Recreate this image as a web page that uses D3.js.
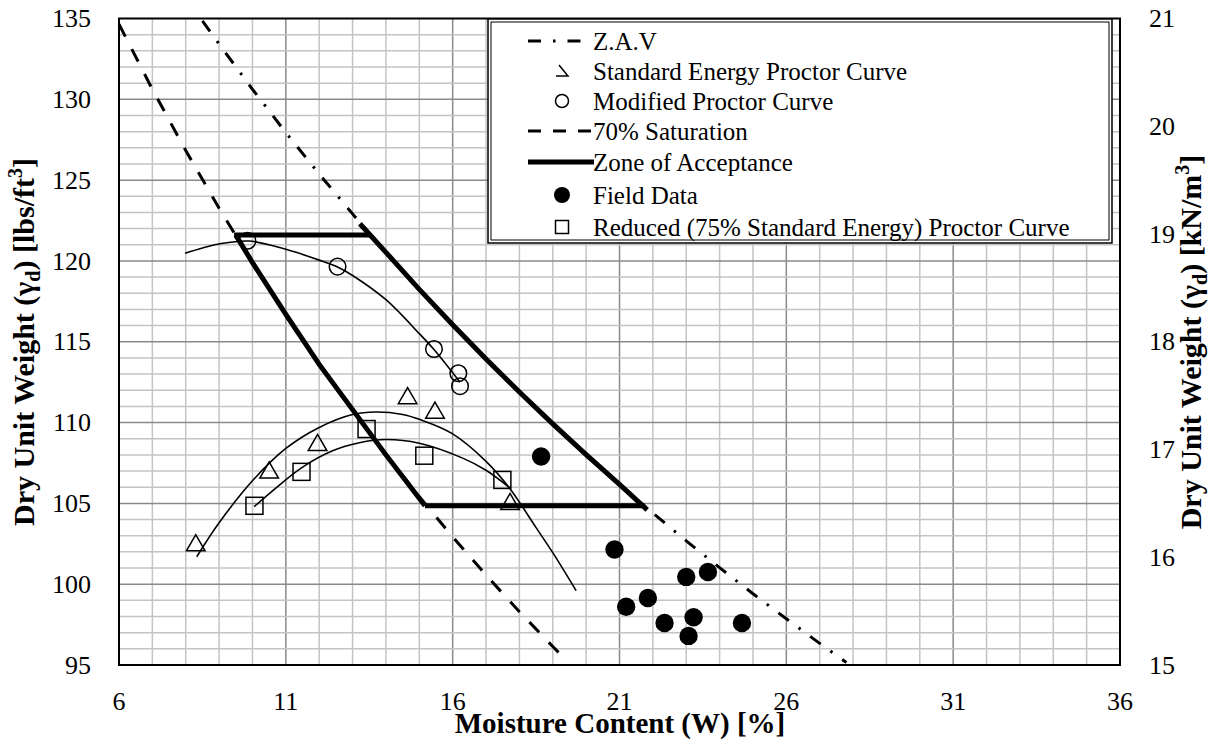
<!DOCTYPE html>
<html lang="en">
<head>
  <meta charset="UTF-8">
  <title>Compaction curves</title>
  <script src="https://d3js.org/d3.v7.min.js"></script>
  <style>
    body { margin: 0; background: #fff; }
  </style>
</head>
<body>
  <svg width="1210" height="740"></svg>
  <script>
    // ---- data ----
    const xTicks = [6, 11, 16, 21, 26, 31, 36];
    const yTicks = [95, 100, 105, 110, 115, 120, 125, 130, 135];
    const yTicksRight = [15, 16, 17, 18, 19, 20, 21];

    const standardPts = [[8.3, 102.4], [10.5, 106.9], [11.95, 108.6], [14.65, 111.5], [15.47, 110.6], [17.72, 104.95]];
    const modifiedPts = [[9.85, 121.25], [12.55, 119.65], [15.44, 114.55], [16.17, 113.05], [16.22, 112.25]];
    const reducedPts = [[10.06, 104.85], [11.47, 106.95], [13.42, 109.6], [15.15, 107.95], [17.49, 106.45]];
    const fieldPts = [[18.65, 107.9], [20.85, 102.15], [23.0, 100.45], [23.65, 100.75], [21.85, 99.15],
                      [21.2, 98.6], [22.35, 97.6], [23.22, 97.95], [23.07, 96.8], [24.67, 97.6]];

    const standardCurve = [[8.33, 101.7], [9, 103.8], [10, 106.4], [11, 108.4], [12, 109.7], [13, 110.5], [13.7, 110.65],
                           [14.5, 110.5], [15, 110.2], [16, 109.3], [17, 107.6], [17.7, 105.95], [18.5, 103.5], [19, 101.95], [19.7, 99.6]];
    const modifiedCurve = [[7.98, 120.47], [8.5, 120.8], [9, 121.05], [9.9, 121.23], [11, 120.72], [12, 120.05],
                           [12.55, 119.62], [13, 119.1], [14, 117.6], [15, 115.5], [15.44, 114.52], [16.22, 112.5]];
    const reducedCurve = [[10.05, 104.8], [10.7, 105.95], [11.47, 107.2], [12.4, 108.25], [13.2, 108.75], [14, 108.95],
                          [15, 108.72], [16.3, 107.8], [17, 107.05], [17.72, 105.95]];

    const zavLine = [[8.5, 134.86], [9, 133.42], [10, 130.62], [11, 127.94], [12, 125.38], [13, 122.91], [14, 120.53],
                     [15, 118.24], [16, 116.05], [17, 113.93], [18, 111.89], [19, 109.92], [20, 108.02], [21, 106.18],
                     [22, 104.4], [23, 102.68], [24, 101.02], [25, 99.41], [26, 97.86], [27, 96.34], [27.8, 95.15]];
    const sat70Line = [[6, 134.65], [7, 130.62], [8, 126.83], [9, 123.26], [10, 119.88], [11, 116.67], [12, 113.64],
                       [13, 110.76], [14, 108.02], [15, 105.41], [16, 102.93], [17, 100.56], [18, 98.3], [19, 96.14], [19.45, 95.2]];

    const zoneTop = [[9.45, 121.6], [13.55, 121.6]];
    const zoneRight = [[13.22, 122.3], [14, 120.53], [15, 118.24], [16, 116.05], [17, 113.93], [18, 111.89],
                       [19, 109.92], [20, 108.02], [21, 106.18], [21.83, 104.6]];
    const zoneBottom = [[15.17, 104.85], [21.76, 104.85]];
    const zoneLeft = [[9.5, 121.6], [10, 119.9], [11, 116.7], [12, 113.6], [13, 110.8], [14, 108.0], [15.17, 104.85]];

    const legendLabels = ["Z.A.V", "Standard Energy Proctor Curve", "Modified Proctor Curve", "70% Saturation",
                          "Zone of Acceptance", "Field Data", "Reduced (75% Standard Energy) Proctor Curve"];

    // ---- layout ----
    const svg = d3.select("svg");
    const FONT = '"Liberation Serif"';
    const pLeft = 119, pRight = 1120, pTop = 18.5, pBottom = 665;

    const x = d3.scaleLinear().domain([6, 36]).range([pLeft, pRight]);
    const y = d3.scaleLinear().domain([95, 135]).range([pBottom, pTop]);
    const y2 = d3.scaleLinear().domain([15, 21]).range([pBottom, pTop]);

    svg.append("rect").attr("width", 1210).attr("height", 740).attr("fill", "#fff");

    // grid
    const grid = svg.append("g");
    d3.range(7, 36).forEach(v => {
      grid.append("line")
        .attr("x1", x(v)).attr("x2", x(v)).attr("y1", pTop).attr("y2", pBottom)
        .attr("stroke", (v - 6) % 5 === 0 ? "#8a8a8a" : "#c4c4c4")
        .attr("stroke-width", 1.5);
    });
    d3.range(96, 135).forEach(v => {
      grid.append("line")
        .attr("x1", pLeft).attr("x2", pRight).attr("y1", y(v)).attr("y2", y(v))
        .attr("stroke", v % 5 === 0 ? "#8a8a8a" : "#c4c4c4")
        .attr("stroke-width", 1.5);
    });

    // tick labels (no tick marks, Excel style)
    const labels = svg.append("g");
    function tickText(sel) {
      return sel.style("font-family", FONT).style("font-weight", "normal")
        .attr("font-size", 26).attr("fill", "#000");
    }
    tickText(labels.selectAll(".yl").data(yTicks).join("text")
      .attr("x", pLeft - 28).attr("y", d => y(d)).attr("dy", "0.33em")
      .attr("text-anchor", "end").text(d => d));
    tickText(labels.selectAll(".yr").data(yTicksRight).join("text")
      .attr("x", pRight + 29).attr("y", d => y2(d)).attr("dy", "0.33em")
      .attr("text-anchor", "start").text(d => d));
    tickText(labels.selectAll(".xb").data(xTicks).join("text")
      .attr("x", d => x(d)).attr("y", pBottom + 45)
      .attr("text-anchor", "middle").text(d => d));

    const line = d3.line().x(d => x(d[0])).y(d => y(d[1]));
    const smooth = d3.line().x(d => x(d[0])).y(d => y(d[1])).curve(d3.curveCatmullRom.alpha(0.5));

    const plot = svg.append("g");

    // reference lines
    plot.append("path").attr("d", line(zavLine)).attr("fill", "none")
      .attr("stroke", "#000").attr("stroke-width", 3).attr("stroke-dasharray", "13 12 2.5 12");
    plot.append("path").attr("d", line(sat70Line)).attr("fill", "none")
      .attr("stroke", "#000").attr("stroke-width", 3).attr("stroke-dasharray", "14 14");

    // fitted proctor curves
    [standardCurve, modifiedCurve, reducedCurve].forEach(c => {
      plot.append("path").attr("d", smooth(c)).attr("fill", "none")
        .attr("stroke", "#000").attr("stroke-width", 1.6);
    });

    // zone of acceptance
    [zoneTop, zoneRight, zoneBottom, zoneLeft].forEach(z => {
      plot.append("path").attr("d", line(z)).attr("fill", "none")
        .attr("stroke", "#000").attr("stroke-width", 5);
    });

    // markers
    const tri = d3.symbol().type(d3.symbolTriangle).size(150);
    plot.selectAll(".std").data(standardPts).join("path")
      .attr("transform", d => `translate(${x(d[0])},${y(d[1])})`)
      .attr("d", tri).attr("fill", "none").attr("stroke", "#000").attr("stroke-width", 1.5);
    plot.selectAll(".red").data(reducedPts).join("rect")
      .attr("x", d => x(d[0]) - 8.5).attr("y", d => y(d[1]) - 8.5)
      .attr("width", 17).attr("height", 17)
      .attr("fill", "none").attr("stroke", "#000").attr("stroke-width", 1.5);
    plot.selectAll(".mod").data(modifiedPts).join("circle")
      .attr("cx", d => x(d[0])).attr("cy", d => y(d[1])).attr("r", 8.3)
      .attr("fill", "none").attr("stroke", "#000").attr("stroke-width", 1.5);
    plot.selectAll(".fld").data(fieldPts).join("circle")
      .attr("cx", d => x(d[0])).attr("cy", d => y(d[1])).attr("r", 9.2)
      .attr("fill", "#000");

    // plot border
    svg.append("rect").attr("x", pLeft).attr("y", pTop)
      .attr("width", pRight - pLeft).attr("height", pBottom - pTop)
      .attr("fill", "none").attr("stroke", "#000").attr("stroke-width", 2);

    // legend
    const lg = svg.append("g");
    lg.append("rect").attr("x", 488).attr("y", 19).attr("width", 624).attr("height", 224)
      .attr("fill", "#fff").attr("stroke", "#000").attr("stroke-width", 1.5);
    lg.append("rect").attr("x", 491).attr("y", 22).attr("width", 618).attr("height", 218)
      .attr("fill", "none").attr("stroke", "#000").attr("stroke-width", 1);
    const rowY = [41, 71, 101, 131, 162, 195, 227];
    lg.selectAll("text").data(legendLabels).join("text")
      .attr("x", 593).attr("y", (d, i) => rowY[i]).attr("dy", "0.35em")
      .style("font-family", FONT).style("font-weight", "normal")
      .attr("font-size", 25).attr("fill", "#000").text(d => d);
    const sx = 562;
    lg.append("line").attr("x1", 528).attr("x2", 582).attr("y1", rowY[0]).attr("y2", rowY[0])
      .attr("stroke", "#000").attr("stroke-width", 3).attr("stroke-dasharray", "13 12 2.5 12");
    lg.append("path")
      .attr("d", `M${sx - 3},${rowY[1] - 6} L${sx + 6},${rowY[1] + 5} L${sx - 6},${rowY[1] + 5}`)
      .attr("fill", "none").attr("stroke", "#000").attr("stroke-width", 1.5);
    lg.append("circle").attr("cx", sx).attr("cy", rowY[2]).attr("r", 6.5)
      .attr("fill", "none").attr("stroke", "#000").attr("stroke-width", 1.5);
    lg.append("line").attr("x1", 528).attr("x2", 593).attr("y1", rowY[3]).attr("y2", rowY[3])
      .attr("stroke", "#000").attr("stroke-width", 3).attr("stroke-dasharray", "13 12");
    lg.append("line").attr("x1", 528).attr("x2", 594).attr("y1", rowY[4]).attr("y2", rowY[4])
      .attr("stroke", "#000").attr("stroke-width", 5);
    lg.append("circle").attr("cx", sx).attr("cy", rowY[5]).attr("r", 8)
      .attr("fill", "#000");
    lg.append("rect").attr("x", sx - 6.5).attr("y", rowY[6] - 6.5).attr("width", 13).attr("height", 13)
      .attr("fill", "none").attr("stroke", "#000").attr("stroke-width", 1.5);

    // axis titles
    function unitTitle(tx, unit) {
      const t = svg.append("text").attr("transform", `translate(${tx},342) rotate(-90)`)
        .attr("text-anchor", "middle").attr("font-size", 30).attr("fill", "#000")
        .style("font-family", FONT).style("font-weight", "bold");
      t.append("tspan").text("Dry Unit Weight (γ");
      t.append("tspan").attr("font-size", 20).attr("dy", 6).text("d");
      t.append("tspan").attr("dy", -6).text(") [" + unit);
      t.append("tspan").attr("font-size", 20).attr("dy", -12).text("3");
      t.append("tspan").attr("dy", 12).text("]");
    }
    unitTitle(34, "lbs/ft");
    unitTitle(1201, "kN/m");

    svg.append("text").attr("x", 620).attr("y", 733)
      .attr("text-anchor", "middle").attr("font-size", 29).attr("fill", "#000")
      .style("font-family", FONT).style("font-weight", "bold")
      .text("Moisture Content (W) [%]");
  </script>
</body>
</html>
